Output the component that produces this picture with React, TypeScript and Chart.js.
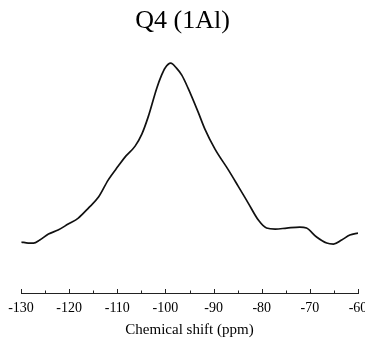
import React, { useEffect, useRef } from "react";
import { Chart, registerables } from "chart.js";

Chart.register(...registerables);

// Chemical shift (ppm) and intensity (arbitrary units)
const shifts: number[] = [
  -129.9, -128.5, -127.4, -126.1, -124.3, -122.3, -120.2, -118.1, -116.0, -113.9,
  -111.9, -109.8, -108.4, -106.3, -104.9, -103.6, -101.8, -100.8, -100.1, -98.9,
  -97.7, -96.6, -95.3, -93.2, -91.8, -89.7, -86.9, -84.9, -82.8, -80.7,
  -79.0, -77.2, -74.8, -72.1, -70.7, -68.6, -66.5, -65.1, -63.4, -61.7, -60.0,
];
const intensity: number[] = [
  51, 50, 50, 53, 59, 63, 69, 75, 85, 96,
  113, 127, 136, 147, 159, 176, 205, 218, 225, 230,
  225, 218, 205, 181, 164, 144, 123, 107, 90, 73,
  65, 64, 65, 66, 65, 56, 50, 49, 53, 58, 60,
];
const xTickValues: number[] = [-130, -120, -110, -100, -90, -80, -70, -60];
const minorTickValues: number[] = [-125, -115, -105, -95, -85, -75, -65];

const titleText = "Q4 (1Al)";
const xTitle = "Chemical shift (ppm)";
const FONT = "'Liberation Serif', 'Times New Roman', serif";

export default function App() {
  const ref = useRef<HTMLCanvasElement | null>(null);

  useEffect(() => {
    if (!ref.current) return;
    const tickPlugin = {
      id: "innerTicks",
      afterDraw(chart: any) {
        const xs = chart.scales.x;
        const ctx = chart.ctx;
        const bottom = chart.chartArea.bottom;
        ctx.save();
        ctx.strokeStyle = "#222";
        ctx.lineWidth = 1;
        const draw = (v: number, len: number) => {
          const px = Math.round(xs.getPixelForValue(v)) + 0.5;
          ctx.beginPath();
          ctx.moveTo(px, bottom);
          ctx.lineTo(px, bottom - len);
          ctx.stroke();
        };
        xTickValues.forEach((v) => draw(v, 4));
        minorTickValues.forEach((v) => draw(v, 2.5));
        ctx.restore();
      },
    };
    const chart = new Chart(ref.current, {
      type: "line",
      data: {
        datasets: [
          {
            data: shifts.map((s, i) => ({ x: s, y: intensity[i] })),
            borderColor: "#111",
            borderWidth: 1.7,
            pointRadius: 0,
            cubicInterpolationMode: "monotone",
            fill: false,
          },
        ],
      },
      options: {
        animation: false,
        responsive: false,
        devicePixelRatio: 1,
        layout: { padding: { top: 0, bottom: 0, left: 0, right: 0 } },
        plugins: {
          legend: { display: false },
          tooltip: { enabled: false },
          title: {
            display: true,
            text: titleText,
            color: "#000",
            font: { family: FONT, size: 26, weight: "normal" },
            padding: { top: 6, bottom: 6 },
          },
        },
        scales: {
          x: {
            type: "linear",
            min: -130,
            max: -60,
            afterBuildTicks: (scale: any) => {
              scale.ticks = xTickValues.map((v) => ({ value: v }));
            },
            afterFit: (scale: any) => {
              scale.paddingLeft = 21;
              scale.paddingRight = 7;
              scale.height = 53;
            },
            grid: { display: false, drawTicks: false },
            border: { display: true, color: "#222", width: 1 },
            ticks: {
              color: "#000",
              padding: 7,
              font: { family: FONT, size: 14 },
              maxRotation: 0,
              autoSkip: false,
            },
            title: {
              display: true,
              text: xTitle,
              color: "#000",
              font: { family: FONT, size: 15 },
              padding: { top: 0, bottom: 7 },
            },
          },
          y: {
            display: false,
            min: 0,
            max: 250,
          },
        },
      },
      plugins: [tickPlugin],
    });
    return () => chart.destroy();
  }, []);

  return (
    <div style={{ position: "absolute", left: 0, top: 0, width: 365, height: 346, background: "#fff" }}>
      <canvas ref={ref} width={365} height={346} />
    </div>
  );
}
